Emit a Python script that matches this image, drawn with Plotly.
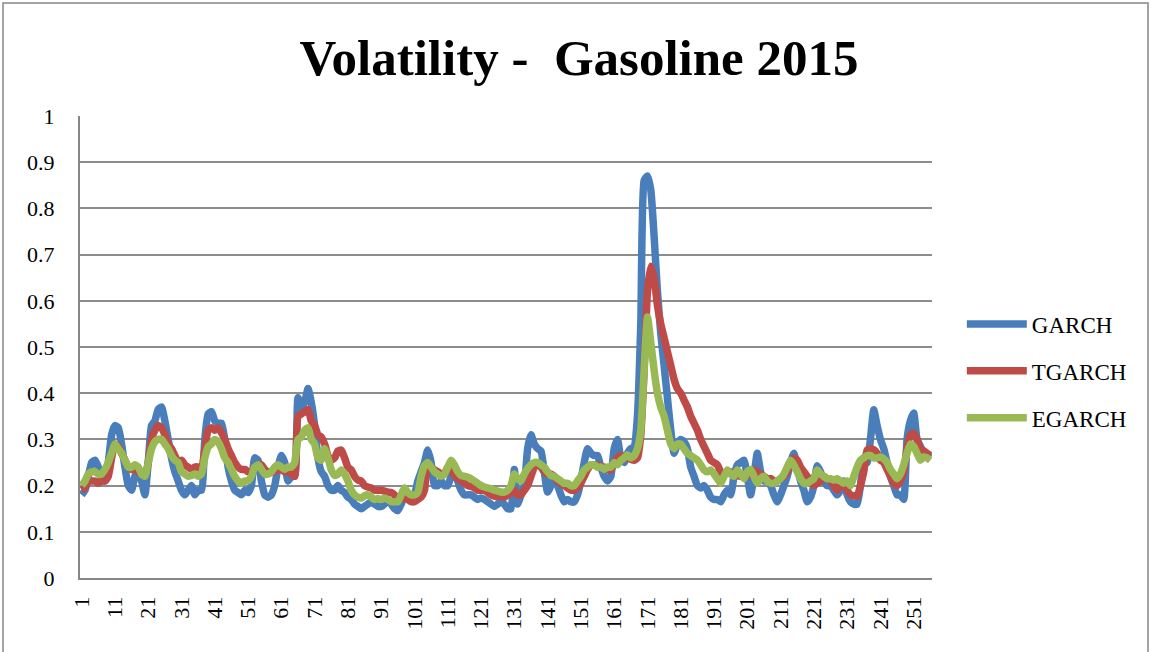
import plotly.graph_objects as go

periods = list(range(1, 257))
tick_values = list(range(1, 252, 10))
tick_labels = [str(v) for v in tick_values]

garch = [
    0.18, 0.19, 0.22, 0.25, 0.255, 0.24, 0.215, 0.21, 0.25, 0.31,
    0.33, 0.325, 0.29, 0.24, 0.20, 0.19, 0.22, 0.23, 0.21, 0.18,
    0.25, 0.33, 0.34, 0.365, 0.37, 0.34, 0.30, 0.26, 0.23, 0.21,
    0.19, 0.18, 0.19, 0.20, 0.18, 0.19, 0.19, 0.30, 0.355, 0.36,
    0.34, 0.335, 0.335, 0.30, 0.24, 0.21, 0.19, 0.185, 0.18, 0.19,
    0.185, 0.20, 0.26, 0.255, 0.21, 0.18, 0.175, 0.18, 0.20, 0.24,
    0.265, 0.25, 0.21, 0.22, 0.22, 0.39, 0.37, 0.38, 0.41, 0.38,
    0.33, 0.26, 0.23, 0.22, 0.20, 0.19, 0.19, 0.20, 0.19, 0.185,
    0.175, 0.17, 0.16, 0.155, 0.15, 0.155, 0.16, 0.165, 0.16, 0.155,
    0.155, 0.16, 0.17, 0.16, 0.15, 0.146, 0.16, 0.175, 0.175, 0.17,
    0.18, 0.21, 0.23, 0.25, 0.277, 0.25, 0.20, 0.20, 0.21, 0.20,
    0.20, 0.22, 0.24, 0.21, 0.19, 0.18, 0.18, 0.18, 0.175, 0.17,
    0.173, 0.17, 0.165, 0.16, 0.155, 0.16, 0.165, 0.16, 0.15, 0.15,
    0.235, 0.16, 0.18, 0.20, 0.28, 0.31, 0.29, 0.28, 0.275, 0.23,
    0.186, 0.20, 0.22, 0.20, 0.18, 0.165, 0.17, 0.165, 0.165, 0.18,
    0.21, 0.25, 0.28, 0.27, 0.265, 0.265, 0.24, 0.22, 0.21, 0.22,
    0.28, 0.30, 0.26, 0.25, 0.27, 0.28, 0.284, 0.35, 0.55, 0.86,
    0.87, 0.84, 0.74, 0.62, 0.53, 0.46, 0.39, 0.32, 0.27, 0.29,
    0.30, 0.295, 0.28, 0.24, 0.22, 0.20, 0.195, 0.20, 0.19, 0.175,
    0.17, 0.17, 0.165, 0.18, 0.19, 0.18, 0.22, 0.245, 0.25, 0.255,
    0.22, 0.18, 0.22, 0.27, 0.23, 0.21, 0.21, 0.20, 0.18, 0.165,
    0.18, 0.20, 0.22, 0.25, 0.27, 0.24, 0.21, 0.19, 0.165, 0.175,
    0.20, 0.243, 0.23, 0.21, 0.20, 0.20, 0.19, 0.18, 0.19, 0.21,
    0.18, 0.165, 0.16, 0.16, 0.20, 0.26, 0.25, 0.30, 0.364, 0.33,
    0.30, 0.28, 0.25, 0.22, 0.20, 0.18, 0.18, 0.17, 0.30, 0.34,
    0.357, 0.30, 0.285, 0.27, 0.265, 0.26,
]

tgarch = [
    0.19, 0.195, 0.21, 0.21, 0.21, 0.205, 0.21, 0.21, 0.22, 0.26,
    0.29, 0.285, 0.27, 0.255, 0.24, 0.235, 0.235, 0.23, 0.225, 0.22,
    0.25, 0.30, 0.32, 0.33, 0.325, 0.31, 0.29, 0.28, 0.265, 0.25,
    0.255, 0.245, 0.24, 0.235, 0.24, 0.24, 0.235, 0.28, 0.32, 0.325,
    0.32, 0.325, 0.315, 0.30, 0.28, 0.265, 0.25, 0.24, 0.235, 0.235,
    0.23, 0.23, 0.24, 0.245, 0.245, 0.235, 0.23, 0.23, 0.23, 0.235,
    0.235, 0.23, 0.23, 0.225, 0.22, 0.35, 0.355, 0.36, 0.365, 0.34,
    0.33, 0.31, 0.305, 0.29, 0.265, 0.255, 0.26, 0.275, 0.277, 0.26,
    0.24, 0.234, 0.22, 0.212, 0.21, 0.20, 0.197, 0.195, 0.19, 0.19,
    0.19, 0.188, 0.186, 0.185, 0.18, 0.17, 0.17, 0.176, 0.17, 0.165,
    0.165, 0.17, 0.175, 0.19, 0.25, 0.24, 0.234, 0.23, 0.225, 0.225,
    0.24, 0.235, 0.222, 0.215, 0.21, 0.205, 0.20, 0.198, 0.195, 0.19,
    0.19, 0.19, 0.185, 0.18, 0.177, 0.176, 0.177, 0.175, 0.18, 0.183,
    0.19, 0.18, 0.18, 0.19, 0.20, 0.22, 0.24, 0.245, 0.24, 0.23,
    0.225, 0.225, 0.22, 0.21, 0.205, 0.20, 0.195, 0.19, 0.19, 0.195,
    0.205, 0.22, 0.235, 0.245, 0.245, 0.245, 0.24, 0.24, 0.235, 0.234,
    0.25, 0.26, 0.265, 0.262, 0.26, 0.257, 0.255, 0.26, 0.31, 0.45,
    0.62, 0.675, 0.65, 0.59, 0.55, 0.52, 0.49, 0.46, 0.43, 0.41,
    0.40, 0.385, 0.37, 0.35, 0.335, 0.32, 0.30, 0.285, 0.27, 0.255,
    0.25, 0.245, 0.23, 0.222, 0.23, 0.23, 0.225, 0.222, 0.22, 0.22,
    0.222, 0.225, 0.234, 0.23, 0.225, 0.22, 0.215, 0.215, 0.21, 0.21,
    0.215, 0.22, 0.23, 0.245, 0.26, 0.255, 0.24, 0.23, 0.22, 0.21,
    0.20, 0.205, 0.21, 0.22, 0.215, 0.21, 0.20, 0.19, 0.20, 0.205,
    0.19, 0.18, 0.178, 0.177, 0.20, 0.23, 0.277, 0.28, 0.278, 0.27,
    0.255, 0.25, 0.235, 0.22, 0.205, 0.20, 0.21, 0.23, 0.28, 0.31,
    0.313, 0.30, 0.28, 0.275, 0.27, 0.265,
]

egarch = [
    0.20, 0.21, 0.225, 0.23, 0.23, 0.225, 0.225, 0.235, 0.25, 0.27,
    0.29, 0.28, 0.27, 0.255, 0.24, 0.24, 0.245, 0.24, 0.225, 0.22,
    0.25, 0.28, 0.295, 0.30, 0.30, 0.29, 0.28, 0.265, 0.255, 0.25,
    0.23, 0.225, 0.22, 0.222, 0.225, 0.22, 0.225, 0.26, 0.284, 0.29,
    0.30, 0.295, 0.28, 0.26, 0.25, 0.235, 0.22, 0.21, 0.205, 0.21,
    0.21, 0.22, 0.24, 0.245, 0.235, 0.225, 0.225, 0.23, 0.24, 0.245,
    0.24, 0.235, 0.24, 0.24, 0.25, 0.30, 0.305, 0.32, 0.325, 0.30,
    0.29, 0.26, 0.255, 0.28, 0.26, 0.234, 0.222, 0.225, 0.234, 0.225,
    0.21, 0.19, 0.18, 0.175, 0.173, 0.178, 0.18, 0.175, 0.17, 0.172,
    0.17, 0.173, 0.17, 0.165, 0.165, 0.165, 0.18, 0.195, 0.185, 0.18,
    0.18, 0.185, 0.22, 0.243, 0.25, 0.24, 0.23, 0.225, 0.22, 0.225,
    0.24, 0.255, 0.245, 0.23, 0.222, 0.22, 0.218, 0.215, 0.21, 0.205,
    0.20, 0.197, 0.195, 0.193, 0.19, 0.188, 0.186, 0.186, 0.19, 0.20,
    0.225, 0.215, 0.21, 0.225, 0.237, 0.245, 0.25, 0.25, 0.245, 0.24,
    0.23, 0.222, 0.22, 0.215, 0.21, 0.205, 0.205, 0.20, 0.20, 0.21,
    0.22, 0.234, 0.24, 0.245, 0.245, 0.24, 0.24, 0.235, 0.24, 0.24,
    0.25, 0.245, 0.255, 0.26, 0.267, 0.26, 0.265, 0.28, 0.32, 0.45,
    0.565, 0.51, 0.45, 0.40, 0.37, 0.35, 0.32, 0.29, 0.28, 0.29,
    0.29, 0.28, 0.27, 0.265, 0.26, 0.255, 0.245, 0.234, 0.23, 0.234,
    0.225, 0.215, 0.205, 0.22, 0.234, 0.225, 0.22, 0.234, 0.225, 0.215,
    0.23, 0.235, 0.22, 0.205, 0.215, 0.22, 0.21, 0.205, 0.205, 0.21,
    0.215, 0.225, 0.24, 0.255, 0.245, 0.23, 0.215, 0.205, 0.205, 0.21,
    0.215, 0.234, 0.225, 0.22, 0.215, 0.215, 0.212, 0.215, 0.21, 0.205,
    0.21, 0.20, 0.22, 0.24, 0.255, 0.26, 0.265, 0.265, 0.26, 0.26,
    0.262, 0.258, 0.25, 0.235, 0.225, 0.215, 0.225, 0.245, 0.27, 0.29,
    0.285, 0.27, 0.255, 0.262, 0.26, 0.255,
]

series = [
    ("GARCH", garch, "#4A7EBB"),
    ("TGARCH", tgarch, "#BE4B48"),
    ("EGARCH", egarch, "#98B954"),
]

serif = "Liberation Serif"
fig = go.Figure()
for name, vals, color in series:
    fig.add_trace(go.Scatter(
        x=periods, y=vals, name=name, mode="lines", legendgroup=name,
        line=dict(color=color, width=7.5, shape="spline", smoothing=0.5),
    ))

fig.update_layout(
    width=1151, height=652,
    margin=dict(l=80, r=219, t=116, b=74),
    paper_bgcolor="white", plot_bgcolor="white",
    title=dict(text="<b>Volatility -  Gasoline 2015</b>", x=0.503, xanchor="center",
               y=0.912, yanchor="middle", font=dict(family=serif, size=51, color="black")),
    showlegend=True,
    legend=dict(x=1.035, y=0.448, xanchor="left", yanchor="middle",
                font=dict(family=serif, size=23, color="black"),
                tracegroupgap=14, itemwidth=60, bgcolor="rgba(0,0,0,0)"),
    font=dict(family=serif, size=22, color="black"),
)
fig.update_xaxes(
    range=[0.5, 256.5], tickmode="array", tickvals=tick_values, ticktext=tick_labels,
    tickangle=-90, showgrid=False, showline=True, linecolor="#868686", linewidth=2,
    ticks="", zeroline=False, ticklabelstandoff=8,
    tickfont=dict(family=serif, size=22, color="black"),
)
fig.update_yaxes(
    range=[0, 1], tickmode="array", tickvals=[i / 10 for i in range(11)],
    ticktext=["0", "0.1", "0.2", "0.3", "0.4", "0.5", "0.6", "0.7", "0.8", "0.9", "1"],
    showgrid=True, gridcolor="#8c8c8c", gridwidth=1.5, showline=True, linecolor="#868686",
    linewidth=2, zeroline=False, ticks="", ticklabelstandoff=19,
    tickfont=dict(family=serif, size=22, color="black"),
)
fig.add_shape(type="rect", xref="paper", yref="paper",
              x0=(3 - 80) / 852, x1=(1148 - 80) / 852,
              y0=(578 - 660) / 462, y1=(578 - 3) / 462,
              line=dict(color="#868686", width=1.5), layer="below")
fig.write_html("out.html", config={"displayModeBar": False},
               post_script="document.body.style.margin='0';")
